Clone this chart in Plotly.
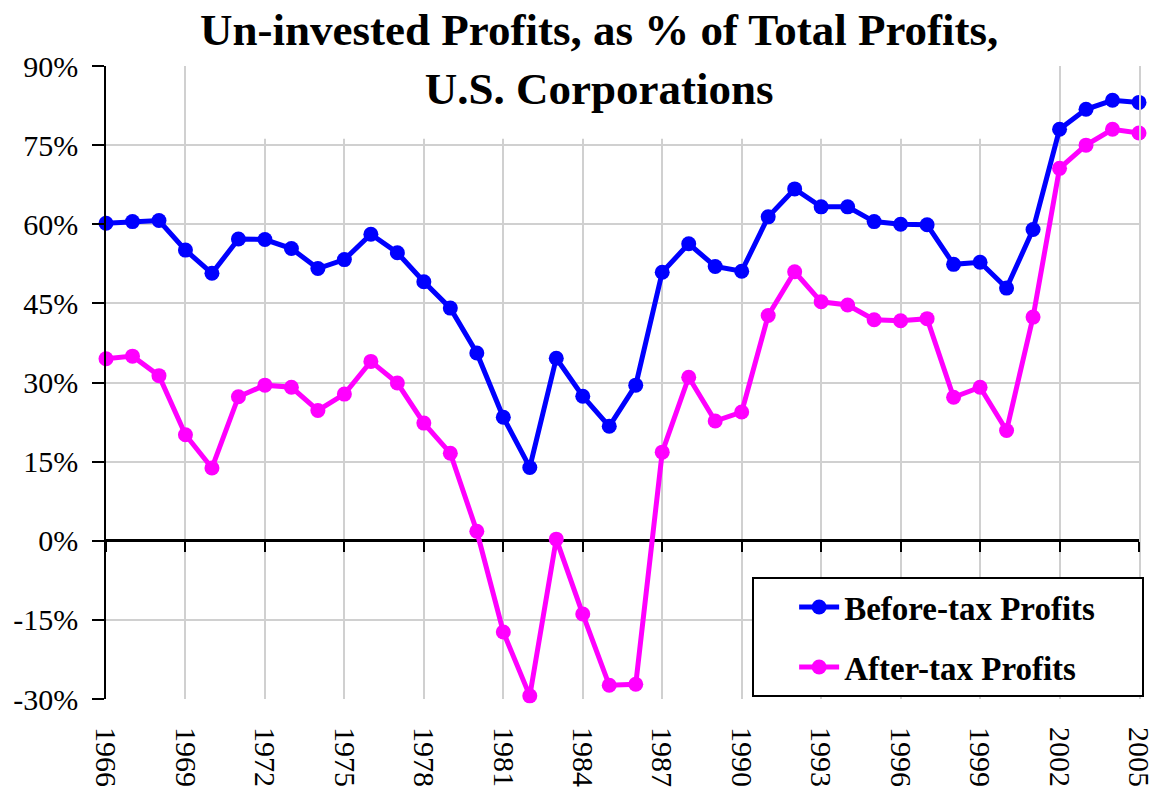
import plotly.graph_objects as go

years = list(range(1966, 2006))
before_tax = [60.2, 60.5, 60.7, 55.1, 50.7, 57.2, 57.1, 55.4, 51.6, 53.3,
              58.1, 54.6, 49.1, 44.1, 35.6, 23.4, 13.9, 34.6, 27.4, 21.7,
              29.5, 50.9, 56.3, 52.0, 51.1, 61.4, 66.7, 63.3, 63.3, 60.5,
              60.0, 59.9, 52.4, 52.8, 47.9, 59.0, 78.0, 81.8, 83.5, 83.1]
after_tax = [34.5, 35.0, 31.3, 20.1, 13.8, 27.3, 29.5, 29.1, 24.7, 27.8,
             34.0, 29.9, 22.3, 16.6, 1.8, -17.3, -29.4, 0.3, -13.9, -27.4,
             -27.2, 16.8, 31.0, 22.7, 24.4, 42.7, 51.0, 45.3, 44.7, 41.9,
             41.7, 42.1, 27.2, 29.1, 20.9, 42.4, 70.6, 75.0, 78.0, 77.3]
series_names = ["Before-tax Profits", "After-tax Profits"]
series_colors = ["#0000FF", "#FF00FF"]
y_tick_vals = [-30, -15, 0, 15, 30, 45, 60, 75, 90]
y_tick_text = ["-30%", "-15%", "0%", "15%", "30%", "45%", "60%", "75%", "90%"]
x_tick_vals = list(range(1966, 2006, 3))
x_tick_text = [str(y) for y in x_tick_vals]
title_text = "Un-invested Profits, as % of Total Profits,<br>U.S. Corporations"

FONT = "Liberation Serif"
PAD = "\u00a0" * 5  # right padding inside the legend box
GRID = "#D0D0D0"

fig = go.Figure()
for i, (name, vals, col) in enumerate(zip(series_names, [before_tax, after_tax], series_colors)):
    fig.add_trace(go.Scatter(
        x=years, y=vals, name=name + PAD, mode="lines+markers",
        line=dict(color=col, width=5),
        marker=dict(color=col, size=15),
        legendgroup=f"g{i}", cliponaxis=False,
    ))

# dummy trace on overlay axis to carry the tick marks on the zero line
fig.add_trace(go.Scatter(x=[years[0]], y=[None], xaxis="x2", showlegend=False,
                         hoverinfo="skip"))
# dummy trace on a right-side axis whose line acts as the last vertical gridline
fig.add_trace(go.Scatter(x=[years[0]], y=[None], yaxis="y2", showlegend=False,
                         hoverinfo="skip"))

# white box behind the title (it hides the gridlines there, as in the original)
fig.add_shape(type="rect", xref="x", yref="y", x0=1969.08, x1=2000.15,
              y0=76.2, y1=91, fillcolor="white", line_width=0, layer="between")

# chart title
fig.add_annotation(text=title_text, xref="paper", yref="paper",
                   x=0.4768, y=1.0095, xanchor="center", yanchor="middle",
                   showarrow=False, align="center",
                   font=dict(family=FONT, size=45, weight="bold", color="black"))

fig.update_layout(
    width=1155, height=794,
    paper_bgcolor="white", plot_bgcolor="white",
    margin=dict(l=106, r=15, t=66, b=95),
    font=dict(family=FONT, color="black"),
    showlegend=True,
    legend=dict(x=1.004, xanchor="right", y=0.003, yanchor="bottom",
                bgcolor="white", bordercolor="black", borderwidth=2,
                font=dict(family=FONT, size=33, weight="bold", color="black"),
                tracegroupgap=14, itemwidth=40, indentation=40),
    xaxis=dict(range=[1966, 2005], tickvals=x_tick_vals, ticktext=x_tick_text,
               tickangle=90, showgrid=True, gridcolor=GRID, gridwidth=1.5,
               showline=False, zeroline=False, ticks="",
               ticklabelstandoff=27, automargin=False,
               ticklabeloverflow="allow",
               tickfont=dict(family=FONT, size=30, color="black")),
    xaxis2=dict(range=[1966, 2005], overlaying="x", anchor="free", position=0.25,
                tickvals=x_tick_vals, showticklabels=False, showgrid=False,
                showline=False, zeroline=False, ticks="outside", ticklen=10,
                tickwidth=2, tickcolor="black"),
    yaxis=dict(range=[-30, 90], tickvals=y_tick_vals, ticktext=y_tick_text,
               showgrid=True, gridcolor=GRID, gridwidth=1.5,
               showline=True, linecolor="black", linewidth=1.5,
               ticks="outside", ticklen=12, tickcolor="black", tickwidth=1.5,
               zeroline=True, zerolinecolor="black", zerolinewidth=3,
               ticklabelstandoff=8, automargin=False,
               tickfont=dict(family=FONT, size=30, color="black")),
    yaxis2=dict(range=[-30, 90], overlaying="y", side="right", showgrid=False,
                showticklabels=False, ticks="", zeroline=False,
                showline=True, linecolor=GRID, linewidth=1.5, automargin=False),
)

fig.write_html("out.html", config={"displayModeBar": False},
               post_script="document.body.style.margin='0';")
